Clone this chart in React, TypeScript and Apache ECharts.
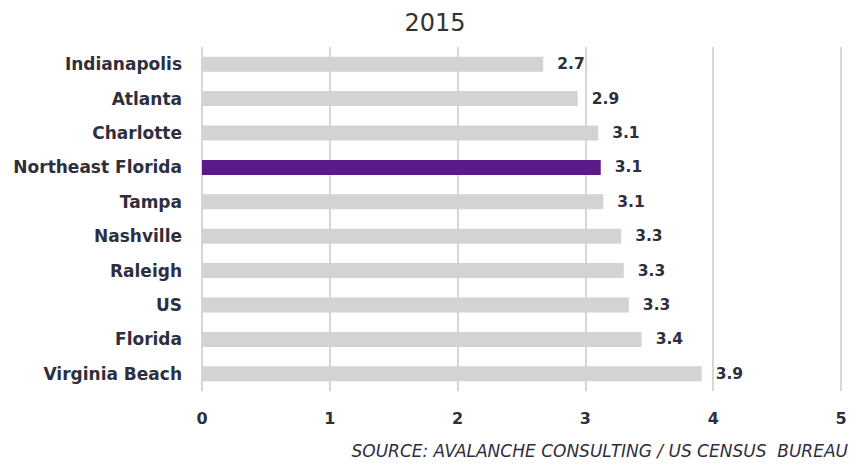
import React, { useEffect, useRef } from "react";
import * as echarts from "echarts";

const categories = [
  "Indianapolis",
  "Atlanta",
  "Charlotte",
  "Northeast Florida",
  "Tampa",
  "Nashville",
  "Raleigh",
  "US",
  "Florida",
  "Virginia Beach",
];
const values = [2.67, 2.94, 3.1, 3.12, 3.14, 3.28, 3.3, 3.34, 3.44, 3.91];
const highlight = "Northeast Florida";
const xTicks = [0, 1, 2, 3, 4, 5];
const titleText = "2015";
const sourceText = "SOURCE: AVALANCHE CONSULTING / US CENSUS  BUREAU";

const FONT = "DejaVu Sans";
const TEXT = "#2f2f3c";

export default function App() {
  const ref = useRef<HTMLDivElement>(null);
  useEffect(() => {
    if (!ref.current) return;
    const chart = echarts.init(ref.current, null, { renderer: "svg" });
    chart.setOption({
      animation: false,
      backgroundColor: "#ffffff",
      grid: { left: 202, right: 11, top: 47, bottom: 75, containLabel: false },
      xAxis: {
        type: "value",
        min: xTicks[0],
        max: xTicks[xTicks.length - 1],
        interval: 1,
        axisLine: { show: false },
        axisTick: { show: false },
        splitLine: { show: true, lineStyle: { color: "#d6d6d6", width: 2 } },
        axisLabel: {
          margin: 19,
          color: TEXT,
          fontFamily: FONT,
          fontSize: 16,
          fontWeight: "bold",
        },
      },
      yAxis: {
        type: "category",
        inverse: true,
        data: categories,
        axisLine: { show: false },
        axisTick: { show: false },
        axisLabel: {
          margin: 20,
          color: TEXT,
          fontFamily: FONT,
          fontSize: 17,
          fontWeight: "bold",
        },
      },
      series: [
        {
          type: "bar",
          barWidth: 15,
          data: categories.map((c, i) => ({
            value: values[i],
            itemStyle: { color: c === highlight ? "#5b1a88" : "#d3d3d3" },
          })),
          label: {
            show: true,
            position: "right",
            distance: 14,
            color: TEXT,
            fontFamily: FONT,
            fontSize: 15.5,
            fontWeight: "bold",
            formatter: (p: any) => Number(p.value).toFixed(1),
          },
        },
      ],
      graphic: [
        {
          type: "text",
          x: 435,
          y: 23,
          style: {
            text: titleText,
            fill: "#333",
            font: `24px ${FONT}`,
            textAlign: "center",
            textVerticalAlign: "middle",
          },
        },
        {
          type: "text",
          x: 848,
          y: 451,
          style: {
            text: sourceText,
            fill: TEXT,
            font: `italic 17px ${FONT}`,
            textAlign: "right",
            textVerticalAlign: "middle",
          },
        },
      ],
    });
    return () => chart.dispose();
  }, []);
  return (
    <div
      ref={ref}
      style={{ position: "fixed", left: 0, top: 0, width: 852, height: 466 }}
    />
  );
}
